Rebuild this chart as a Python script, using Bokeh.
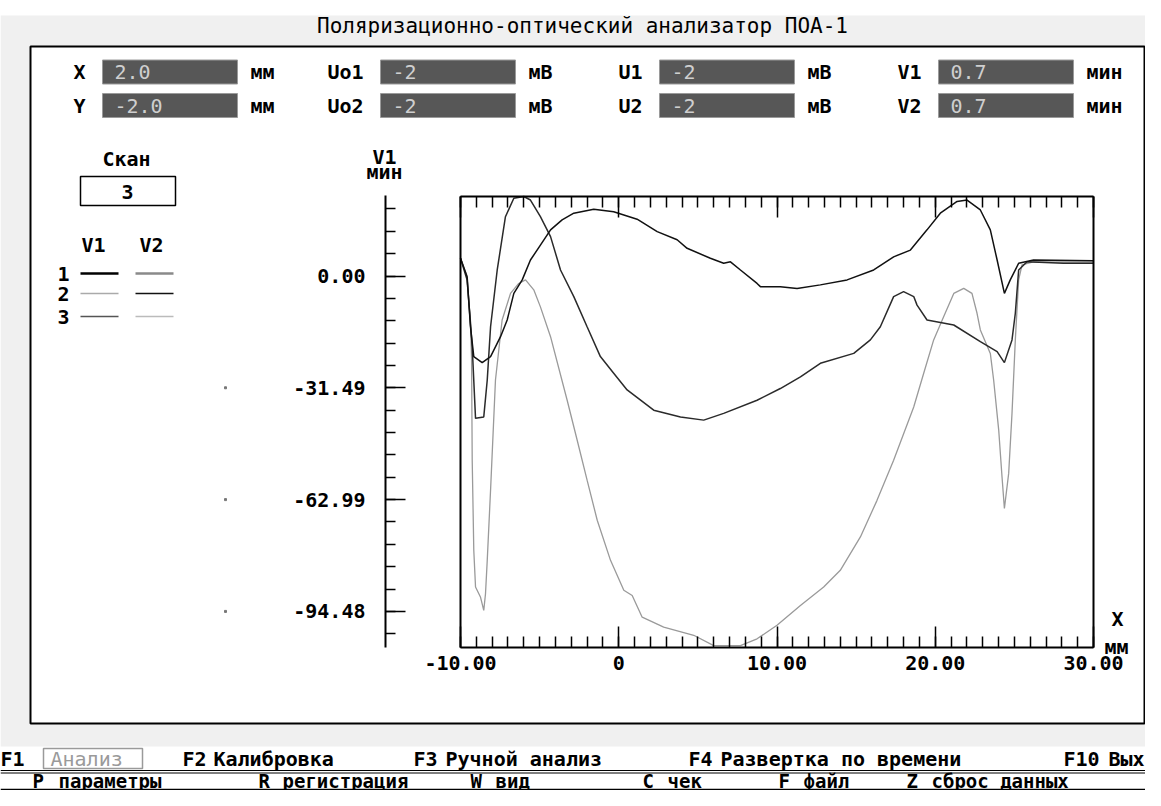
from bokeh.plotting import figure
from bokeh.models import Range1d, LinearAxis, FixedTicker, NumeralTickFormatter
from bokeh.core.properties import value
from bokeh.embed import file_html
from bokeh.resources import INLINE

# ---------------- data ----------------
title_text = "Поляризационно-оптический анализатор ПОА-1"

x_major_ticks = [-10, 0, 10, 20, 30]
x_minor_ticks = list(range(-10, 31))
y_major_ticks = [0.0, -31.49, -62.99, -94.48]
y_minor_step = 6.298

# curve 1 (scan 1, V1) - arch
c1_x = [-10.0, -9.58, -9.37, -9.16, -8.63, -8.10, -7.47, -7.05, -6.63, -6.10, -5.58, -4.95,
        -4.31, -3.58, -2.84, -1.58, -0.32, 1.16, 2.43, 3.69, 4.32, 5.79, 6.63, 7.06, 7.69,
        8.74, 8.95, 10.21, 11.27, 12.74, 14.43, 16.11, 17.37, 18.43, 19.48, 20.32, 21.38,
        22.01, 22.85, 23.48, 23.91, 24.37, 24.74, 25.27, 26.21, 30.0]
c1_y = [5.0, -0.2, -14.3, -22.7, -24.4, -22.7, -17.1, -12.4, -4.9, -1.1, 4.5, 8.7,
        13.0, 15.8, 17.7, 18.8, 18.1, 16.0, 12.5, 10.2, 7.8, 5.0, 3.6, 4.0, 1.7,
        -2.1, -3.0, -3.0, -3.5, -2.5, -1.1, 1.7, 5.4, 7.3, 13.0, 17.7, 21.0,
        21.4, 18.6, 13.0, 4.5, -4.9, -1.1, 3.6, 4.5, 4.3]

# curve 2 (scan 3, V1) - steep peak
c2_x = [-10.0, -9.58, -9.26, -9.05, -8.53, -8.31, -8.10, -7.68, -7.16, -6.63, -6.00, -5.58,
        -4.95, -4.31, -3.68, -2.84, -2.00, -1.16, -0.32, 0.53, 2.21, 3.90, 5.37, 6.63, 8.74,
        10.21, 11.48, 12.74, 14.85, 15.90, 16.53, 17.37, 18.00, 18.64, 18.85, 19.48, 21.17,
        22.85, 23.91, 24.37, 24.85, 25.06, 25.27, 25.80, 28.10, 30.0]
c2_y = [5.0, -1.1, -19.9, -40.1, -39.7, -29.3, -14.3, 1.7, 16.7, 21.9, 22.4, 21.4,
        16.7, 11.1, 1.7, -5.8, -14.3, -22.7, -27.4, -32.1, -37.8, -39.7, -40.6, -38.7, -35.0,
        -31.7, -28.4, -24.6, -21.8, -18.0, -14.3, -5.8, -4.4, -5.8, -8.2, -12.4, -13.8,
        -18.5, -21.3, -24.4, -18.0, -10.5, 1.7, 4.0, 3.6, 3.6]

# curve 3 (scan 2, V1) - deep valley
c3_x = [-10.0, -9.62, -9.37, -9.30, -9.26, -9.16, -9.05, -8.74, -8.53, -8.42, -8.31, -8.10,
        -7.79, -7.37, -6.84, -6.32, -5.89, -5.37, -4.95, -4.31, -3.26, -2.63, -2.00, -1.36,
        -0.52, 0.32, 0.85, 1.48, 2.84, 4.74, 6.00, 7.69, 8.74, 10.00, 11.48, 12.95, 14.00,
        15.27, 16.32, 17.37, 18.64, 19.27, 19.90, 20.53, 21.17, 21.80, 22.32, 22.64, 22.85,
        23.48, 23.69, 24.01, 24.22, 24.37, 24.64, 24.85, 25.06, 25.27, 25.48, 26.20, 30.0]
c3_y = [5.0, 0.3, -12.4, -23.7, -51.9, -77.3, -87.6, -90.4, -94.2, -89.5, -80.1, -60.3,
        -29.3, -12.4, -4.9, -2.1, -1.1, -3.9, -8.7, -17.1, -35.0, -46.2, -57.5, -68.8,
        -80.1, -88.5, -90.0, -96.1, -98.9, -101.2, -104.1, -104.1, -102.2, -98.4, -92.8, -87.6, -82.9,
        -73.5, -63.2, -51.9, -36.9, -27.4, -18.0, -11.5, -4.9, -3.5, -4.9, -10.5, -15.2,
        -21.8, -29.3, -43.4, -56.6, -65.5, -55.6, -38.7, -18.0, -1.1, 3.1, 4.0, 3.9]

header_labels_row1 = ["X", "Uo1", "U1", "V1"]
header_labels_row2 = ["Y", "Uo2", "U2", "V2"]
header_values_row1 = ["2.0", "-2", "-2", "0.7"]
header_values_row2 = ["-2.0", "-2", "-2", "0.7"]
header_units = ["мм", "мВ", "мВ", "мин"]
scan_number = "3"

menu1 = ["F1", "Анализ", "F2", "Калибровка", "F3", "Ручной анализ", "F4",
         "Развертка по времени", "F10", "Вых"]
menu2 = [("P", "параметры"), ("R", "регистрация"), ("W", "вид"), ("C", "чек"), ("F", "файл"),
         ("Z", "сброс данных")]

# ---------------- layout helpers (reference pixel -> data) ----------------
W, H = 1145, 790
OX, OY = 0, 0
X_PX0, X_SCALE = 460.0, 15.825
Y_PX0, Y_SCALE = 275.5, 3.55
FONT = "DejaVu Sans Mono"


def px2x(px):
    return -10 + (px - X_PX0) / X_SCALE


def py2y(py):
    return (Y_PX0 - py) / Y_SCALE


p = figure(width=W, height=H,
           x_range=Range1d(px2x(OX), px2x(OX + W)),
           y_range=Range1d(py2y(OY + H), py2y(OY)),
           output_backend="svg", toolbar_location=None,
           x_axis_type=None, y_axis_type=None, min_border=0)
p.outline_line_color = None
p.background_fill_color = "white"
p.border_fill_color = "white"


def B(l, t, r, b, fill=None, line=None, lw=1):
    p.quad(left=[px2x(l)], right=[px2x(r)], top=[py2y(t)], bottom=[py2y(b)],
           fill_color=fill, line_color=line, line_width=lw)


def HL(x0, x1, y, color="#000", lw=1):
    p.line([px2x(x0), px2x(x1)], [py2y(y), py2y(y)], line_color=color, line_width=lw)


def T(px, py, s, align="left", color="#000", size=20, bold=True):
    p.text(x=[px2x(px)], y=[py2y(py)], text=[s], text_align=align, text_baseline="middle",
           text_color=color, text_font=value(FONT), text_font_size=f"{size}px",
           text_font_style="bold" if bold else "normal")


# backgrounds
B(0, 15, W, 746, fill="#f0f0f0", line=None)
B(30, 46, 1144, 723, fill="white", line="#000", lw=2)
T(582, 25, title_text, align="center", size=21, bold=False)

# header fields
field_starts = [102, 380, 659, 938]
rows = [(71.5, header_labels_row1, header_values_row1), (105, header_labels_row2, header_values_row2)]
for ry, labs, vals in rows:
    for fx, lab, val, unit in zip(field_starts, labs, vals, header_units):
        B(fx, ry - 12, fx + 135, ry + 12, fill="#575757", line="#9a9a9a", lw=1)
        T(fx - 17, ry, lab, align="right")
        T(fx + 12, ry, val, color="#cfcfcf", bold=False)
        T(fx + 148, ry, unit)

# scan box & legend
T(126, 158, "Скан", align="center")
B(80, 176, 175, 205, fill="white", line="#000", lw=1.5)
T(127, 191, scan_number, align="center")
T(93, 244, "V1", align="center")
T(151, 244, "V2", align="center")
legend_rows = [(273, "1", ("#000000", 2.5), ("#8a8a8a", 2.5)),
               (293, "2", ("#aaaaaa", 1.5), ("#111111", 1.5)),
               (316, "3", ("#555555", 1.5), ("#bbbbbb", 1.5))]
for ly, num, s1, s2 in legend_rows:
    T(63, ly, num, align="center")
    HL(80, 118, ly, color=s1[0], lw=s1[1])
    HL(135, 173, ly, color=s2[0], lw=s2[1])

# axis titles
T(384, 156, "V1", align="center")
T(384, 171, "мин", align="center")
T(1117, 618, "X", align="center")
T(1116, 646, "мм", align="center")

# tiny marks left of y labels
p.scatter(x=[px2x(225)] * 3, y=y_major_ticks[1:], size=2, color="#777777", marker="square")

# curves
p.line(c3_x, c3_y, line_color="#9a9a9a", line_width=1.3)
p.line(c2_x, c2_y, line_color="#2a2a2a", line_width=1.5)
p.line(c1_x, c1_y, line_color="#111111", line_width=1.5)

# axes
lab_font = dict(major_label_text_font=FONT, major_label_text_font_size="20px",
                major_label_text_font_style="bold", major_label_text_color="#000")
ybot, ytop = py2y(647), py2y(196)

xb = LinearAxis(fixed_location=ybot, bounds=(-10, 30),
                ticker=FixedTicker(ticks=x_major_ticks, minor_ticks=x_minor_ticks),
                formatter=NumeralTickFormatter(format="0.00"), major_label_overrides={0: "0"},
                major_tick_in=21, major_tick_out=0, minor_tick_in=11, minor_tick_out=0,
                axis_line_width=2, major_tick_line_width=1.5, minor_tick_line_width=1.5,
                major_label_standoff=8, **lab_font)
p.add_layout(xb, "below")

xa = LinearAxis(fixed_location=ytop, bounds=(-10, 30),
                ticker=FixedTicker(ticks=x_major_ticks, minor_ticks=x_minor_ticks),
                major_tick_in=21, major_tick_out=0, minor_tick_in=11, minor_tick_out=0,
                axis_line_width=2, major_tick_line_width=1.5, minor_tick_line_width=1.5,
                major_label_text_color=None)
p.add_layout(xa, "above")

for loc, side in [(-10, "left"), (30, "right")]:
    ax = LinearAxis(fixed_location=loc, bounds=(ybot, ytop), ticker=FixedTicker(ticks=[]),
                    axis_line_width=2, major_tick_line_color=None, minor_tick_line_color=None,
                    major_label_text_color=None)
    p.add_layout(ax, side)

y_minor = [k * y_minor_step for k in range(-16, 4)]
ya = LinearAxis(fixed_location=px2x(385), bounds=(py2y(647), py2y(195)),
                ticker=FixedTicker(ticks=y_major_ticks, minor_ticks=y_minor),
                formatter=NumeralTickFormatter(format="0.00"),
                major_tick_in=20, major_tick_out=0, minor_tick_in=10, minor_tick_out=0,
                axis_line_width=2, major_tick_line_width=1.5, minor_tick_line_width=1.5,
                major_label_standoff=20, **lab_font)
p.add_layout(ya, "left")

# bottom menu
m1y = 758
T(0, m1y, menu1[0])
B(43, 748, 142, 768, fill="white", line="#9a9a9a", lw=1.5)
T(50, m1y, menu1[1], color="#9a9a9a", bold=False)
menu1_x = [182, 213, 413, 445, 688, 720, 1063, 1108]
for txt, mx in zip(menu1[2:], menu1_x):
    T(mx, m1y, txt)
HL(0, W, 770, lw=1)
HL(0, W, 772.5, lw=1)
m2y = 780
menu2_pos = [(32, 58), (258, 282), (470, 495), (642, 667), (778, 803), (906, 931)]
for (k, word), (kx, wx) in zip(menu2, menu2_pos):
    T(kx, m2y, k, size=19)
    T(wx, m2y, word, size=19)
HL(0, W, 789, lw=1.5)

open("out.html", "w").write(file_html(p, INLINE))
